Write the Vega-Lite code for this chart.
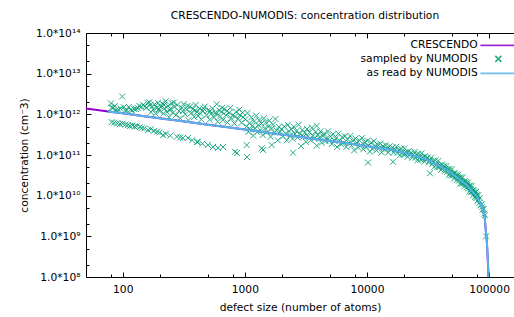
{
"$schema": "https://vega.github.io/schema/vega-lite/v6.json",
"width": 428, "height": 244,
"autosize": {"type": "none"},
"padding": {"left": 86, "top": 33, "right": 0, "bottom": 40},
"config": {
  "view": {"stroke": null},
  "font": "DejaVu Sans",
  "axis": {"labelFont": "DejaVu Sans", "labelFontSize": 10.7, "titleFont": "DejaVu Sans", "titleFontSize": 10.7, "titleFontWeight": "normal", "labelColor": "#000", "titleColor": "#000", "domainColor": "#000", "tickColor": "#000", "grid": false, "labelOverlap": false, "labelFlush": false}
},
"title": {"text": "CRESCENDO-NUMODIS: concentration distribution", "font": "DejaVu Sans", "fontSize": 10.7, "fontWeight": "normal", "color": "#000", "anchor": "middle", "dx": 5, "dy": 16, "offset": 13.5, "baseline": "alphabetic"},
"datasets": {
"lines": [
{"size":50,"conc":1.40e12,"series":"CRESCENDO"},{"size":76,"conc":1.18e12,"series":"CRESCENDO"},{"size":100,"conc":1.06e12,"series":"CRESCENDO"},{"size":150,"conc":9.0e11,"series":"CRESCENDO"},{"size":200,"conc":8.04e11,"series":"CRESCENDO"},{"size":300,"conc":6.82e11,"series":"CRESCENDO"},{"size":500,"conc":5.56e11,"series":"CRESCENDO"},{"size":700,"conc":4.86e11,"series":"CRESCENDO"},{"size":1000,"conc":4.22e11,"series":"CRESCENDO"},{"size":1500,"conc":3.59e11,"series":"CRESCENDO"},{"size":2000,"conc":3.20e11,"series":"CRESCENDO"},{"size":3000,"conc":2.72e11,"series":"CRESCENDO"},{"size":5000,"conc":2.21e11,"series":"CRESCENDO"},{"size":7000,"conc":1.94e11,"series":"CRESCENDO"},{"size":10000,"conc":1.66e11,"series":"CRESCENDO"},{"size":13000,"conc":1.47e11,"series":"CRESCENDO"},{"size":16000,"conc":1.35e11,"series":"CRESCENDO"},{"size":20000,"conc":1.13e11,"series":"CRESCENDO"},{"size":25000,"conc":9.35e10,"series":"CRESCENDO"},{"size":30000,"conc":8.0e10,"series":"CRESCENDO"},{"size":35000,"conc":6.41e10,"series":"CRESCENDO"},{"size":40000,"conc":5.16e10,"series":"CRESCENDO"},{"size":45000,"conc":4.28e10,"series":"CRESCENDO"},{"size":50000,"conc":3.37e10,"series":"CRESCENDO"},{"size":55000,"conc":2.73e10,"series":"CRESCENDO"},{"size":60000,"conc":2.24e10,"series":"CRESCENDO"},{"size":65000,"conc":1.87e10,"series":"CRESCENDO"},{"size":70000,"conc":1.47e10,"series":"CRESCENDO"},{"size":75000,"conc":1.16e10,"series":"CRESCENDO"},{"size":80000,"conc":9.3e9,"series":"CRESCENDO"},{"size":84000,"conc":6.7e9,"series":"CRESCENDO"},{"size":88000,"conc":5.0e9,"series":"CRESCENDO"},{"size":90000,"conc":3.9e9,"series":"CRESCENDO"},{"size":92000,"conc":3.0e9,"series":"CRESCENDO"},{"size":94000,"conc":1.4e9,"series":"CRESCENDO"},{"size":95700,"conc":8.1e8,"series":"CRESCENDO"},{"size":97000,"conc":4e8,"series":"CRESCENDO"},{"size":98500,"conc":1.5e8,"series":"CRESCENDO"},{"size":99500,"conc":3e7,"series":"CRESCENDO"},{"size":100000,"conc":1e6,"series":"CRESCENDO"},
{"size":76,"conc":1.18e12,"series":"as read by NUMODIS"},{"size":100,"conc":1.06e12,"series":"as read by NUMODIS"},{"size":150,"conc":9.0e11,"series":"as read by NUMODIS"},{"size":200,"conc":8.04e11,"series":"as read by NUMODIS"},{"size":300,"conc":6.82e11,"series":"as read by NUMODIS"},{"size":500,"conc":5.56e11,"series":"as read by NUMODIS"},{"size":700,"conc":4.86e11,"series":"as read by NUMODIS"},{"size":1000,"conc":4.22e11,"series":"as read by NUMODIS"},{"size":1500,"conc":3.59e11,"series":"as read by NUMODIS"},{"size":2000,"conc":3.20e11,"series":"as read by NUMODIS"},{"size":3000,"conc":2.72e11,"series":"as read by NUMODIS"},{"size":5000,"conc":2.21e11,"series":"as read by NUMODIS"},{"size":7000,"conc":1.94e11,"series":"as read by NUMODIS"},{"size":10000,"conc":1.66e11,"series":"as read by NUMODIS"},{"size":13000,"conc":1.47e11,"series":"as read by NUMODIS"},{"size":16000,"conc":1.35e11,"series":"as read by NUMODIS"},{"size":20000,"conc":1.13e11,"series":"as read by NUMODIS"},{"size":25000,"conc":9.35e10,"series":"as read by NUMODIS"},{"size":30000,"conc":8.0e10,"series":"as read by NUMODIS"},{"size":35000,"conc":6.41e10,"series":"as read by NUMODIS"},{"size":40000,"conc":5.16e10,"series":"as read by NUMODIS"},{"size":45000,"conc":4.28e10,"series":"as read by NUMODIS"},{"size":50000,"conc":3.37e10,"series":"as read by NUMODIS"},{"size":55000,"conc":2.73e10,"series":"as read by NUMODIS"},{"size":60000,"conc":2.24e10,"series":"as read by NUMODIS"},{"size":65000,"conc":1.87e10,"series":"as read by NUMODIS"},{"size":70000,"conc":1.47e10,"series":"as read by NUMODIS"},{"size":75000,"conc":1.16e10,"series":"as read by NUMODIS"},{"size":80000,"conc":9.3e9,"series":"as read by NUMODIS"},{"size":84000,"conc":6.7e9,"series":"as read by NUMODIS"},{"size":88000,"conc":5.0e9,"series":"as read by NUMODIS"},{"size":90000,"conc":3.9e9,"series":"as read by NUMODIS"},{"size":92000,"conc":3.0e9,"series":"as read by NUMODIS"},{"size":94000,"conc":1.4e9,"series":"as read by NUMODIS"},{"size":95700,"conc":8.1e8,"series":"as read by NUMODIS"},{"size":97000,"conc":4e8,"series":"as read by NUMODIS"},{"size":98500,"conc":1.5e8,"series":"as read by NUMODIS"},{"size":99500,"conc":3e7,"series":"as read by NUMODIS"},{"size":100000,"conc":1e6,"series":"as read by NUMODIS"}
],
"samples": [
{"size":80,"conc":1.86e12},{"size":81,"conc":1.45e12},{"size":83,"conc":1.43e12},{"size":86,"conc":1.6e12},{"size":88,"conc":1.28e12},{"size":92,"conc":1.3e12},{"size":96,"conc":1.40e12},{"size":99,"conc":2.75e12},{"size":102,"conc":1.5e12},{"size":105,"conc":1.26e12},{"size":108,"conc":1.25e12},{"size":112,"conc":1.52e12},{"size":116,"conc":1.3e12},{"size":119,"conc":1.24e12},{"size":124,"conc":1.36e12},{"size":128,"conc":1.35e12},{"size":133,"conc":1.42e12},{"size":137,"conc":1.6e12},{"size":142,"conc":1.52e12},{"size":147,"conc":1.7e12},{"size":152,"conc":1.56e12},{"size":156,"conc":1.45e12},{"size":160,"conc":1.9e12},{"size":165,"conc":1.99e12},{"size":168,"conc":1.7e12},{"size":170,"conc":1.13e12},{"size":174,"conc":1.55e12},{"size":177,"conc":1.32e12},{"size":182,"conc":1.75e12},{"size":186,"conc":1.04e12},{"size":190,"conc":1.45e12},{"size":195,"conc":1.90e12},{"size":198,"conc":1.35e12},{"size":200,"conc":1.20e12},{"size":205,"conc":1.55e12},{"size":210,"conc":1.85e12},{"size":215,"conc":1.05e12},{"size":218,"conc":1.7e12},{"size":220,"conc":1.40e12},{"size":225,"conc":2.10e12},{"size":230,"conc":1.15e12},{"size":235,"conc":1.62e12},{"size":240,"conc":8.5e11},{"size":243,"conc":1.25e12},{"size":246,"conc":1.38e12},{"size":252,"conc":1.88e12},{"size":258,"conc":1.10e12},{"size":262,"conc":1.95e12},{"size":265,"conc":1.52e12},{"size":272,"conc":9.5e11},{"size":280,"conc":1.70e12},{"size":288,"conc":1.22e12},{"size":296,"conc":8.0e11},{"size":305,"conc":1.45e12},{"size":310,"conc":1.2e12},{"size":315,"conc":1.78e12},{"size":325,"conc":1.00e12},{"size":335,"conc":1.30e12},{"size":340,"conc":1.6e12},{"size":345,"conc":7.2e11},{"size":355,"conc":1.55e12},{"size":365,"conc":1.08e12},{"size":375,"conc":1.35e12},{"size":385,"conc":8.6e11},{"size":390,"conc":1.25e12},{"size":395,"conc":1.70e12},{"size":405,"conc":1.15e12},{"size":415,"conc":9.2e11},{"size":425,"conc":1.40e12},{"size":430,"conc":1.05e12},{"size":440,"conc":7.5e11},{"size":455,"conc":1.20e12},{"size":460,"conc":1.38e12},{"size":470,"conc":1.55e12},{"size":485,"conc":9.5e11},{"size":500,"conc":1.25e12},{"size":515,"conc":7.4e11},{"size":520,"conc":1.2e12},{"size":530,"conc":1.02e12},{"size":545,"conc":1.40e12},{"size":560,"conc":8.4e11},{"size":575,"conc":1.10e12},{"size":580,"conc":1.0e12},{"size":588,"conc":1.77e12},{"size":600,"conc":6.6e11},{"size":615,"conc":1.25e12},{"size":630,"conc":9.0e11},{"size":645,"conc":1.15e12},{"size":650,"conc":1.45e12},{"size":660,"conc":7.2e11},{"size":680,"conc":1.35e12},{"size":700,"conc":9.5e11},{"size":710,"conc":1.2e12},{"size":720,"conc":6.3e11},{"size":745,"conc":1.10e12},{"size":760,"conc":1.45e12},{"size":770,"conc":8.0e11},{"size":795,"conc":9.6e11},{"size":820,"conc":6.0e11},{"size":830,"conc":8.8e11},{"size":850,"conc":1.15e12},{"size":880,"conc":7.8e11},{"size":900,"conc":1.3e12},{"size":910,"conc":9.6e11},{"size":940,"conc":6.2e11},{"size":960,"conc":1.1e12},{"size":970,"conc":8.5e11},
{"size":81,"conc":6.4e11},{"size":85,"conc":6.2e11},{"size":90,"conc":6.0e11},{"size":95,"conc":5.8e11},{"size":100,"conc":5.9e11},{"size":105,"conc":5.6e11},{"size":110,"conc":5.4e11},{"size":115,"conc":5.2e11},{"size":120,"conc":5.3e11},{"size":125,"conc":5.0e11},{"size":130,"conc":5.1e11},{"size":138,"conc":4.9e11},{"size":143,"conc":4.6e11},{"size":150,"conc":4.5e11},{"size":161,"conc":4.1e11},{"size":170,"conc":4.3e11},{"size":180,"conc":3.9e11},{"size":191,"conc":3.74e11},{"size":200,"conc":3.6e11},{"size":214,"conc":3.1e11},{"size":225,"conc":3.3e11},{"size":245,"conc":3.0e11},{"size":278,"conc":2.82e11},{"size":295,"conc":2.7e11},{"size":311,"conc":2.62e11},{"size":342,"conc":2.62e11},{"size":370,"conc":2.3e11},{"size":405,"conc":2.09e11},{"size":413,"conc":2.12e11},{"size":450,"conc":1.9e11},{"size":499,"conc":1.76e11},{"size":548,"conc":1.57e11},{"size":602,"conc":1.49e11},{"size":662,"conc":1.57e11},{"size":830,"conc":1.2e11},{"size":863,"conc":1.12e11},{"size":1035,"conc":1.76e11},{"size":1042,"conc":8.9e10},{"size":1374,"conc":1.46e11},{"size":1660,"conc":1.76e11},{"size":1410,"conc":1.33e11},{"size":2480,"conc":1.14e11},{"size":3875,"conc":5.2e11},{"size":10200,"conc":6.5e10},{"size":16340,"conc":6.8e10},{"size":32800,"conc":3.55e10},
{"size":1010,"conc":7.6e11},{"size":1030,"conc":5.0e11},{"size":1050,"conc":1.08e12},{"size":1070,"conc":3.7e11},{"size":1090,"conc":6.1e11},{"size":1110,"conc":4.25e11},{"size":1130,"conc":8.4e11},{"size":1150,"conc":5.2e11},{"size":1170,"conc":3.0e11},{"size":1190,"conc":6.7e11},{"size":1215,"conc":4.5e11},{"size":1240,"conc":9.3e11},{"size":1265,"conc":3.65e11},{"size":1290,"conc":5.5e11},{"size":1315,"conc":7.2e11},{"size":1340,"conc":4.1e11},{"size":1370,"conc":5.95e11},{"size":1400,"conc":3.1e11},{"size":1430,"conc":8.0e11},{"size":1460,"conc":4.5e11},{"size":1490,"conc":6.3e11},{"size":1520,"conc":3.6e11},{"size":1555,"conc":4.95e11},{"size":1590,"conc":7.0e11},{"size":1625,"conc":2.8e11},{"size":1660,"conc":4.5e11},{"size":1700,"conc":5.6e11},{"size":1740,"conc":3.55e11},{"size":1780,"conc":7.7e11},{"size":1820,"conc":4.0e11},{"size":1860,"conc":2.3e11},{"size":1900,"conc":4.9e11},{"size":1950,"conc":3.7e11},
{"size":2000,"conc":4.3e11},{"size":2050,"conc":2.85e11},{"size":2100,"conc":5.0e11},{"size":2150,"conc":3.4e11},{"size":2200,"conc":2.3e11},{"size":2250,"conc":5.5e11},{"size":2300,"conc":3.8e11},{"size":2350,"conc":3.0e11},{"size":2400,"conc":4.3e11},{"size":2460,"conc":2.5e11},{"size":2520,"conc":4.9e11},{"size":2580,"conc":3.3e11},{"size":2640,"conc":3.85e11},{"size":2700,"conc":2.7e11},{"size":2760,"conc":5.6e11},{"size":2820,"conc":3.35e11},{"size":2880,"conc":1.65e11},{"size":2950,"conc":4.1e11},{"size":3020,"conc":2.85e11},{"size":3090,"conc":3.5e11},{"size":3160,"conc":2.1e11},{"size":3230,"conc":4.35e11},{"size":3300,"conc":2.9e11},{"size":3380,"conc":3.6e11},{"size":3460,"conc":2.3e11},{"size":3540,"conc":4.7e11},{"size":3620,"conc":3.0e11},{"size":3700,"conc":2.5e11},{"size":3790,"conc":3.7e11},{"size":3880,"conc":1.7e11},{"size":3970,"conc":3.15e11},{"size":4060,"conc":2.65e11},{"size":4160,"conc":3.8e11},{"size":4260,"conc":2.0e11},{"size":4360,"conc":2.9e11},{"size":4460,"conc":3.35e11},{"size":4570,"conc":2.2e11},{"size":4680,"conc":2.6e11},{"size":4790,"conc":3.8e11},{"size":4900,"conc":2.25e11},
{"size":5020,"conc":2.87e11},{"size":5150,"conc":1.86e11},{"size":5280,"conc":3.25e11},{"size":5410,"conc":2.25e11},{"size":5550,"conc":2.55e11},{"size":5690,"conc":1.58e11},{"size":5830,"conc":3.35e11},{"size":5980,"conc":2.25e11},{"size":6130,"conc":1.84e11},{"size":6280,"conc":2.75e11},{"size":6440,"conc":2.0e11},{"size":6600,"conc":2.9e11},{"size":6770,"conc":1.58e11},{"size":6940,"conc":2.45e11},{"size":7110,"conc":2.0e11},{"size":7290,"conc":2.95e11},{"size":7470,"conc":1.7e11},{"size":7660,"conc":2.25e11},{"size":7850,"conc":1.3e11},{"size":8050,"conc":2.55e11},{"size":8250,"conc":2.0e11},{"size":8460,"conc":1.53e11},{"size":8670,"conc":2.3e11},{"size":8890,"conc":1.76e11},{"size":9110,"conc":2.6e11},{"size":9340,"conc":1.38e11},{"size":9570,"conc":2.05e11},{"size":9810,"conc":1.6e11},{"size":10060,"conc":2.25e11},{"size":10310,"conc":1.72e11},{"size":10570,"conc":1.22e11},{"size":10830,"conc":2.0e11},{"size":11100,"conc":1.42e11},{"size":11380,"conc":2.2e11},{"size":11670,"conc":1.7e11},{"size":11960,"conc":1.3e11},{"size":12260,"conc":1.8e11},{"size":12570,"conc":1.48e11},{"size":12880,"conc":1.9e11},{"size":13200,"conc":1.16e11},{"size":13530,"conc":1.65e11},{"size":13870,"conc":1.35e11},{"size":14220,"conc":1.75e11},{"size":14570,"conc":1.45e11},{"size":14940,"conc":1.16e11},{"size":15310,"conc":1.63e11},{"size":15690,"conc":1.35e11},
{"size":16200,"conc":1.54e11},{"size":16600,"conc":1.15e11},{"size":17000,"conc":1.35e11},{"size":17400,"conc":1.59e11},{"size":17800,"conc":1.14e11},{"size":18200,"conc":1.34e11},{"size":18600,"conc":9.8e10},{"size":19000,"conc":1.42e11},{"size":19400,"conc":1.16e11},{"size":19800,"conc":1.03e11},{"size":20200,"conc":1.46e11},{"size":20600,"conc":1.05e11},{"size":21000,"conc":1.17e11},{"size":21500,"conc":9.0e10},{"size":22000,"conc":1.23e11},{"size":22500,"conc":1.04e11},{"size":23000,"conc":1.15e11},{"size":23500,"conc":8.6e10},{"size":24000,"conc":1.01e11},{"size":24500,"conc":1.19e11},{"size":25000,"conc":8.6e10},{"size":25500,"conc":1.01e11},{"size":26000,"conc":7.4e10},{"size":26500,"conc":1.07e11},{"size":27000,"conc":8.75e10},{"size":27500,"conc":7.7e10},{"size":28000,"conc":1.1e11},{"size":28500,"conc":8.0e10},{"size":29000,"conc":8.9e10},{"size":29500,"conc":6.9e10},{"size":30000,"conc":9.4e10},{"size":30700,"conc":7.95e10},{"size":31400,"conc":8.7e10},{"size":32100,"conc":6.5e10},{"size":32800,"conc":7.45e10},{"size":33500,"conc":8.6e10},{"size":34200,"conc":6.1e10},{"size":34900,"conc":7.1e10},{"size":35600,"conc":5.1e10},{"size":36300,"conc":7.3e10},{"size":37000,"conc":5.85e10},{"size":37700,"conc":5.1e10},{"size":38400,"conc":7.15e10},{"size":39100,"conc":5.1e10},{"size":39800,"conc":5.6e10},{"size":40500,"conc":4.3e10},{"size":41200,"conc":5.8e10},{"size":41900,"conc":4.9e10},{"size":42600,"conc":5.4e10},{"size":43300,"conc":4.0e10},{"size":44000,"conc":4.65e10},{"size":44700,"conc":5.4e10},{"size":45400,"conc":3.85e10},{"size":46100,"conc":4.45e10},{"size":46800,"conc":3.2e10},{"size":47500,"conc":4.55e10},{"size":48200,"conc":3.67e10},{"size":48900,"conc":3.2e10},{"size":49600,"conc":4.45e10},{"size":50300,"conc":3.15e10},{"size":51000,"conc":3.5e10},{"size":51700,"conc":2.65e10},{"size":52400,"conc":3.6e10},{"size":53100,"conc":3.0e10},{"size":53800,"conc":3.3e10},{"size":54500,"conc":2.45e10},{"size":55200,"conc":2.85e10},{"size":55900,"conc":3.3e10},{"size":56600,"conc":2.35e10},{"size":57300,"conc":2.75e10},{"size":58000,"conc":1.98e10},{"size":58700,"conc":2.8e10},{"size":59400,"conc":2.28e10},{"size":60100,"conc":2.0e10},{"size":60800,"conc":2.8e10},{"size":61500,"conc":2.0e10},{"size":62200,"conc":2.22e10},{"size":62900,"conc":1.7e10},{"size":63600,"conc":2.3e10},{"size":64300,"conc":1.95e10},{"size":65000,"conc":2.15e10},{"size":65700,"conc":1.6e10},{"size":66400,"conc":1.85e10},{"size":67100,"conc":2.1e10},{"size":67800,"conc":1.5e10},{"size":68500,"conc":1.74e10},{"size":69200,"conc":1.25e10},{"size":69900,"conc":1.76e10},{"size":70600,"conc":1.43e10},{"size":71300,"conc":1.24e10},{"size":72000,"conc":1.73e10},{"size":72700,"conc":1.22e10},{"size":73400,"conc":1.35e10},{"size":74100,"conc":1.03e10},{"size":74800,"conc":1.38e10},{"size":75500,"conc":1.15e10},{"size":76200,"conc":1.25e10},{"size":76900,"conc":9.3e9},{"size":77600,"conc":1.07e10},{"size":78300,"conc":1.24e10},{"size":79000,"conc":8.8e9},{"size":79700,"conc":1.03e10},{"size":80500,"conc":7.4e9},{"size":81300,"conc":1.02e10},{"size":82100,"conc":8.0e9},{"size":83000,"conc":6.6e9},{"size":84000,"conc":8.7e9},{"size":85000,"conc":5.75e9},{"size":86000,"conc":5.9e9},{"size":87000,"conc":6.2e9},{"size":88000,"conc":5.3e9},{"size":89000,"conc":4.6e9},{"size":90000,"conc":4.7e9},{"size":91000,"conc":3.6e9},{"size":92500,"conc":3.3e9},{"size":94400,"conc":1.0e9}
]
},
"layer": [
{
  "data": {"name": "lines"},
  "transform": [{"filter": "datum.series == 'CRESCENDO'"}],
  "mark": {"type": "line", "clip": true, "strokeWidth": 2},
  "encoding": {
    "x": {"field": "size", "type": "quantitative", "scale": {"type": "log", "domain": [50, 160000], "nice": false},
      "axis": {"orient": "bottom", "title": "defect size (number of atoms)",
        "values": [100,1000,10000,100000],
        "format": "d",
        "tickSize": -5,
        "labelPadding": 12, "titlePadding": 9}},
    "y": {"field": "conc", "type": "quantitative", "scale": {"type": "log", "domain": [1e8, 1e14], "nice": false},
      "axis": {"title": "concentration (cm⁻3)",
        "values": [1e8,2e8,5e8,1e9,2e9,5e9,1e10,2e10,5e10,1e11,2e11,5e11,1e12,2e12,5e12,1e13,2e13,5e13,1e14],
        "labelExpr": "datum.value == 1e8 ? '1.0*10⁸' : datum.value == 1e9 ? '1.0*10⁹' : datum.value == 1e10 ? '1.0*10¹⁰' : datum.value == 1e11 ? '1.0*10¹¹' : datum.value == 1e12 ? '1.0*10¹²' : datum.value == 1e13 ? '1.0*10¹³' : datum.value == 1e14 ? '1.0*10¹⁴' : ''",
        "tickSize": {"condition": {"test": "indexof([1e8,1e9,1e10,1e11,1e12,1e13,1e14], datum.value) >= 0", "value": -5}, "value": -3},
        "labelPadding": 11, "titlePadding": 6}},
    "color": {"field": "series", "type": "nominal",
      "scale": {"domain": ["CRESCENDO", "sampled by NUMODIS", "as read by NUMODIS"], "range": ["#9400d3", "#009e73", "#56b4e9"]},
      "legend": {"title": null, "orient": "none", "legendX": 407, "legendY": 7, "labelAlign": "right", "labelOffset": -26, "symbolSize": 16, "symbolStrokeWidth": 1.6, "labelFont": "DejaVu Sans", "labelFontSize": 10.7, "labelColor": "#000", "rowPadding": 1.5, "padding": 0, "labelLimit": 300}}
  }
},
{
  "data": {"name": "samples"},
  "mark": {"type": "point", "filled": false, "size": 16, "strokeWidth": 1, "opacity": 0.85, "clip": true},
  "encoding": {
    "x": {"field": "size", "type": "quantitative",
      "axis": {"orient": "top", "title": null, "labels": false,
        "values": [100,1000,10000,100000],
        "tickSize": -5}},
    "y": {"field": "conc", "type": "quantitative", "axis": {"title": "concentration (cm⁻3)"}},
    "color": {"datum": "sampled by NUMODIS", "type": "nominal"},
    "shape": {"datum": "sampled by NUMODIS", "type": "nominal",
      "scale": {"domain": ["CRESCENDO", "sampled by NUMODIS", "as read by NUMODIS"], "range": ["M-9,0H9", "M-1.5,-1.5L1.5,1.5M1.5,-1.5L-1.5,1.5", "M-9,0H9"]}}
  }
},
{
  "data": {"name": "lines"},
  "transform": [{"filter": "datum.series == 'as read by NUMODIS'"}],
  "mark": {"type": "line", "clip": true, "strokeWidth": 2},
  "encoding": {
    "x": {"field": "size", "type": "quantitative",
      "axis": {"orient": "bottom", "title": null, "labels": false, "domain": false,
        "values": [80,200,500,800,2000,5000,8000,20000,50000,80000],
        "tickSize": -3}},
    "y": {"field": "conc", "type": "quantitative", "axis": {"title": "concentration (cm⁻3)"}},
    "color": {"field": "series", "type": "nominal"}
  }
},
{
  "data": {"name": "lines"},
  "transform": [{"filter": "datum.series == 'as read by NUMODIS'"}],
  "mark": {"type": "line", "clip": true, "strokeWidth": 2, "opacity": 0},
  "encoding": {
    "x": {"field": "size", "type": "quantitative",
      "axis": {"orient": "top", "title": null, "labels": false, "domain": false,
        "values": [80,200,500,800,2000,5000,8000,20000,50000,80000],
        "tickSize": -3}},
    "y": {"field": "conc", "type": "quantitative", "axis": {"title": "concentration (cm⁻3)"}},
    "color": {"field": "series", "type": "nominal"}
  }
}
],
"resolve": {"axis": {"x": "independent"}}
}
